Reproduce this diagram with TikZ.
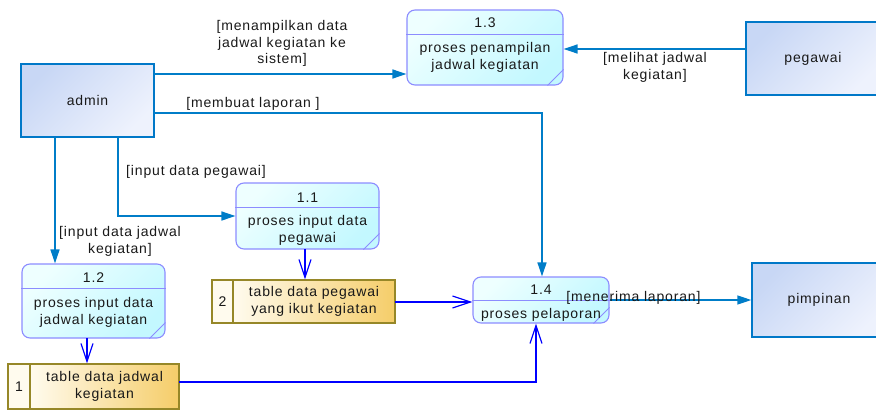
\documentclass[tikz,border=0pt]{standalone}
\usepackage{fontspec}
\setmainfont{Liberation Sans}[LetterSpace=6]
\usetikzlibrary{arrows.meta,calc}
\definecolor{entB}{RGB}{0,120,200}
\definecolor{entA}{RGB}{200,215,245}
\definecolor{entC}{RGB}{238,242,253}
\definecolor{procB}{RGB}{140,140,255}
\definecolor{procA}{RGB}{238,255,255}
\definecolor{procC}{RGB}{195,248,255}
\definecolor{storeB}{RGB}{150,135,40}
\definecolor{storeA}{RGB}{255,251,238}
\definecolor{storeC}{RGB}{245,205,105}
\definecolor{flowA}{RGB}{0,125,200}
\definecolor{txt}{RGB}{25,25,25}
\tikzset{
  entity/.style={draw=entB, line width=1.4pt, top color=entA, bottom color=entC, shading angle=45, inner sep=0pt, text=txt},
  procbox/.style={draw=procB, line width=1.1pt, rounded corners=8pt, top color=procA, bottom color=procC, shading angle=45, inner sep=0pt},
  procline/.style={draw=procB, line width=1.1pt},
  storecell/.style={draw=storeB, line width=1.3pt, fill=storeA, inner sep=0pt, text=txt},
  storemain/.style={draw=storeB, line width=1.3pt, left color=storeA, right color=storeC, inner sep=0pt, align=center, text=txt},
  txtnode/.style={inner sep=0pt, align=center, text=txt},
  flowext/.style={draw=flowA, line width=1.4pt, -{Triangle[length=14pt,width=9pt]}},
  flowint/.style={draw=blue, line width=1.2pt, -{Straight Barb[length=18pt,width=12pt,line width=1.2pt]}},
  lbl/.style={inner sep=0pt, align=center, text=txt},
}
\begin{document}
\begin{tikzpicture}[x=1pt,y=-1pt, font=\fontsize{14}{16.8}\selectfont]
\useasboundingbox (0,0) rectangle (876,410);
\clip (0,0) rectangle (876,410);
% entities
\node[entity, minimum width=133pt, minimum height=73pt] (admin) at (87.5,100.5) {admin};
\node[entity, minimum width=134pt, minimum height=73pt] (peg) at (813,58.5) {pegawai};
\node[entity, minimum width=134pt, minimum height=74pt] (pimp) at (819,300) {pimpinan};
% processes
\node[procbox, minimum width=156pt, minimum height=75pt] (p13) at (485,47.5) {};
\node[procbox, minimum width=143pt, minimum height=66pt] (p11) at (307.5,216) {};
\node[procbox, minimum width=143pt, minimum height=74pt] (p12) at (93.5,301) {};
\node[procbox, minimum width=136pt, minimum height=46pt] (p14) at (541,300) {};
% dividers and notches
\draw[procline] ($(p13.north west)+(0,25)$) -- ($(p13.north east)+(0,25)$);
\draw[procline] ($(p11.north west)+(0,25)$) -- ($(p11.north east)+(0,25)$);
\draw[procline] ($(p12.north west)+(0,25)$) -- ($(p12.north east)+(0,25)$);
\draw[procline] ($(p14.north west)+(0,24)$) -- ($(p14.north east)+(0,24)$);
\foreach \p in {p13,p11,p12,p14}{
  \draw[draw=procB, line width=0.9pt] ($(\p.south east)+(-16,0)$) -- ($(\p.south east)+(0,-16)$);
}
% process texts
\node[txtnode] (p13h) at (485,22.5) {1.3};
\node[txtnode] (p13t) at (485,57) {proses penampilan\\jadwal kegiatan};
\node[txtnode] (p11h) at (307.5,197.5) {1.1};
\node[txtnode] (p11t) at (307.5,230.5) {proses input data\\pegawai};
\node[txtnode] (p12h) at (93.5,278) {1.2};
\node[txtnode] (p12t) at (93.5,312) {proses input data\\jadwal kegiatan};
\node[txtnode] (p14h) at (541,290) {1.4};
\node[txtnode] (p14t) at (541,315) {proses pelaporan};
% stores
\node[storecell, minimum width=21pt, minimum height=43pt] (s2n) at (222.5,301.5) {2};
\node[storemain, minimum width=162pt, minimum height=43pt] (s2) at (314,301.5) {table data pegawai\\yang ikut kegiatan};
\node[storecell, minimum width=22pt, minimum height=45pt] (s1n) at (19,386.5) {1};
\node[storemain, minimum width=149pt, minimum height=45pt] (s1) at (104.5,386.5) {table data jadwal\\kegiatan};
% external flows
\coordinate (a1) at (154,74);
\draw[flowext] (a1) -- (a1 -| p13.west);
\coordinate (g1) at (746,49);
\draw[flowext] (g1) -- (g1 -| p13.east);
\coordinate (a2) at (154,113);
\draw[flowext] (a2) -| ([xshift=1pt]p14.north);
\coordinate (a3) at (118,137);
\draw[flowext] (a3) |- (p11.west);
\coordinate (a4) at (55,137);
\draw[flowext] (a4) -- (a4 |- p12.north);
\draw[flowext] (p14.east) -- (pimp.west);
% internal flows
\coordinate (b1) at (305,249);
\draw[flowint] (b1) -- (b1 |- s2.north);
\coordinate (b2) at (87,338);
\draw[flowint] (b2) -- (b2 |- s1.north);
\coordinate (b3) at (395,302);
\draw[flowint] (b3) -- (b3 -| p14.west);
\coordinate (b4) at (179,382);
\coordinate (b5) at (536,382);
\draw[flowint] (b4) -- (b5) -- (b5 |- p14.south);
% labels
\node[lbl] (l1) at (282,43.5) {[menampilkan data\\jadwal kegiatan ke\\sistem]};
\node[lbl] (l2) at (655,67.5) {[melihat jadwal\\kegiatan]};
\node[lbl] (l3) at (253,103.5) {[membuat laporan ]};
\node[lbl] (l4) at (196,171.5) {[input data pegawai]};
\node[lbl] (l5) at (120,241.5) {[input data jadwal\\kegiatan]};
\node[lbl] (l6) at (633.5,298) {[menerima laporan]};
\end{tikzpicture}
\end{document}
